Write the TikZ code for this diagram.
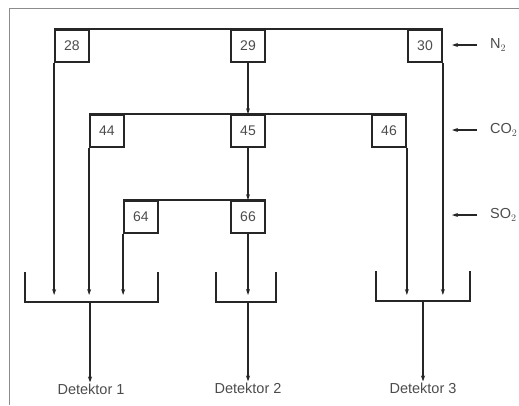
\documentclass[tikz,border=0pt]{standalone}
\usepackage{fontspec}
\setmainfont{Liberation Sans}
\usetikzlibrary{positioning,calc,arrows.meta}

\begin{document}
\begin{tikzpicture}[x=1pt, y=-1pt,
    ion/.style={draw=black!85, line width=1.7pt, minimum width=34pt, minimum height=32pt, inner sep=0pt, text=black!70, font=\fontsize{14}{16}\selectfont},
    lbl/.style={text=black!70, font=\fontsize{14.5}{17}\selectfont, inner sep=1pt},
    pipe/.style={draw=black!85, line width=1.7pt},
    flow/.style={draw=black!85, line width=1.6pt, -{Stealth[length=6pt, width=4pt]}}]
    \useasboundingbox (0,0) rectangle (519,405);
    % frame
    \draw[black!45, line width=0.8pt] (9,405) -- (9,8) -- (519,8);
    % mass boxes
    \node [ion] (b28) at (72,46) {28};
    \node [ion] (b29) at (248,46) {29};
    \node [ion] (b30) at (425,46) {30};
    \node [ion] (b44) at (107,131) {44};
    \node [ion] (b45) at (248,131) {45};
    \node [ion] (b46) at (389,131) {46};
    \node [ion] (b64) at (141,217) {64};
    \node [ion] (b66) at (248,217) {66};
    % gases
    \node [lbl, anchor=west] (gN) at (489,45) {N$_2$};
    \node [lbl, anchor=west] (gC) at (489,130) {CO$_2$};
    \node [lbl, anchor=west] (gS) at (489,215) {SO$_2$};
    \foreach \g in {gN,gC,gS}
        \draw [flow] ([xshift=-12pt]\g.west) -- ([xshift=-37pt]\g.west);
    % detectors
    \node [lbl] (d1) at (91,389) {Detektor 1};
    \node [lbl] (d2) at (248,388) {Detektor 2};
    \node [lbl] (d3) at (423,388) {Detektor 3};
    \coordinate (tip) at (0,295);
    \coordinate (k1) at (90,302);
    \coordinate (k2) at (248,302);
    \coordinate (k3) at (423,301);
    % collectors
    \draw [pipe] (25,272) -- (25,302) -- (158,302) -- (158,272);
    \draw [pipe] (216,272) -- (216,302) -- (276,302) -- (276,272);
    \draw [pipe] (376,271) -- (376,301) -- (470,301) -- (470,271);
    % beams
    \draw [pipe] (b28.north west) -- (b30.north east);
    \draw [pipe] (b44.north west) -- (b46.north east);
    \draw [pipe] (b64.north west) -- (b66.north east);
    \draw [flow] (b29) -- (b45);
    \draw [flow] (b45) -- (b66);
    \draw [flow] (b28.south west) -- (b28.south west |- tip);
    \draw [flow] (b44.south west) -- (b44.south west |- tip);
    \draw [flow] (b64.south west) -- (b64.south west |- tip);
    \draw [flow] (b66.south) -- (b66.south |- tip);
    \draw [flow] (b46.south east) -- (b46.south east |- tip);
    \draw [flow] (b30.south east) -- (b30.south east |- tip);
    \draw [flow] (k1) -- (k1 |- d1.north);
    \draw [flow] (k2) -- (k2 |- d2.north);
    \draw [flow] (k3) -- (k3 |- d3.north);
\end{tikzpicture}
\end{document}
